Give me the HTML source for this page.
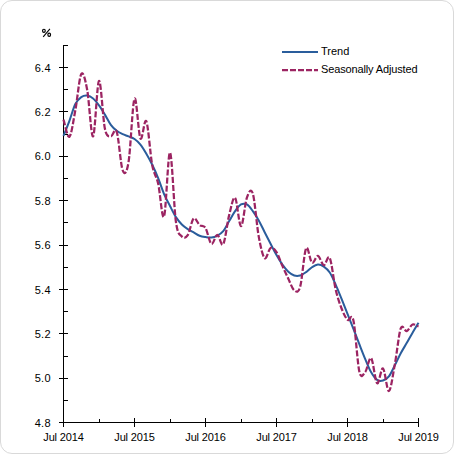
<!DOCTYPE html>
<html><head><meta charset="utf-8"><style>
html,body{margin:0;padding:0;background:#fff;}
body{width:454px;height:454px;overflow:hidden;position:relative;}
.frame{position:absolute;left:0;top:0;width:452px;height:452px;border:1px solid #d9d9d9;border-radius:12px;}
svg{position:absolute;left:0;top:0;}
text{font-family:"Liberation Sans",sans-serif;font-size:11px;fill:#000;}
</style></head><body>
<div class="frame"></div>
<svg width="454" height="454" viewBox="0 0 454 454">
<g stroke="#000" stroke-width="1" fill="none" shape-rendering="crispEdges">
<line x1="63.5" y1="45" x2="63.5" y2="423" />
<line x1="59" y1="422.5" x2="68" y2="422.5" />
<line x1="63" y1="400.5" x2="68" y2="400.5" />
<line x1="59" y1="378.5" x2="68" y2="378.5" />
<line x1="63" y1="356.5" x2="68" y2="356.5" />
<line x1="59" y1="333.5" x2="68" y2="333.5" />
<line x1="63" y1="311.5" x2="68" y2="311.5" />
<line x1="59" y1="289.5" x2="68" y2="289.5" />
<line x1="63" y1="267.5" x2="68" y2="267.5" />
<line x1="59" y1="245.5" x2="68" y2="245.5" />
<line x1="63" y1="222.5" x2="68" y2="222.5" />
<line x1="59" y1="200.5" x2="68" y2="200.5" />
<line x1="63" y1="178.5" x2="68" y2="178.5" />
<line x1="59" y1="156.5" x2="68" y2="156.5" />
<line x1="63" y1="134.5" x2="68" y2="134.5" />
<line x1="59" y1="111.5" x2="68" y2="111.5" />
<line x1="63" y1="89.5" x2="68" y2="89.5" />
<line x1="59" y1="67.5" x2="68" y2="67.5" />
<line x1="63" y1="45.5" x2="68" y2="45.5" />
<line x1="59" y1="422.5" x2="419" y2="422.5" />
<line x1="63.5" y1="418" x2="63.5" y2="427" />
<line x1="134.5" y1="418" x2="134.5" y2="427" />
<line x1="205.5" y1="418" x2="205.5" y2="427" />
<line x1="276.5" y1="418" x2="276.5" y2="427" />
<line x1="347.5" y1="418" x2="347.5" y2="427" />
<line x1="418.5" y1="418" x2="418.5" y2="427" />
<line x1="99.5" y1="419" x2="99.5" y2="423" />
<line x1="170.5" y1="419" x2="170.5" y2="423" />
<line x1="241.5" y1="419" x2="241.5" y2="423" />
<line x1="312.5" y1="419" x2="312.5" y2="423" />
<line x1="383.5" y1="419" x2="383.5" y2="423" />
</g>
<g>
<text x="51.0" y="427.0" text-anchor="end" style="letter-spacing:0.35px">4.8</text>
<text x="51.0" y="382.0" text-anchor="end" style="letter-spacing:0.35px">5.0</text>
<text x="51.0" y="338.0" text-anchor="end" style="letter-spacing:0.35px">5.2</text>
<text x="51.0" y="294.0" text-anchor="end" style="letter-spacing:0.35px">5.4</text>
<text x="51.0" y="249.0" text-anchor="end" style="letter-spacing:0.35px">5.6</text>
<text x="51.0" y="205.0" text-anchor="end" style="letter-spacing:0.35px">5.8</text>
<text x="51.0" y="160.0" text-anchor="end" style="letter-spacing:0.35px">6.0</text>
<text x="51.0" y="116.0" text-anchor="end" style="letter-spacing:0.35px">6.2</text>
<text x="51.0" y="72.0" text-anchor="end" style="letter-spacing:0.35px">6.4</text>
<text x="63.5" y="440.5" text-anchor="middle" style="letter-spacing:-0.14px">Jul 2014</text>
<text x="134.5" y="440.5" text-anchor="middle" style="letter-spacing:-0.14px">Jul 2015</text>
<text x="205.5" y="440.5" text-anchor="middle" style="letter-spacing:-0.14px">Jul 2016</text>
<text x="276.5" y="440.5" text-anchor="middle" style="letter-spacing:-0.14px">Jul 2017</text>
<text x="347.5" y="440.5" text-anchor="middle" style="letter-spacing:-0.14px">Jul 2018</text>
<text x="418.5" y="440.5" text-anchor="middle" style="letter-spacing:-0.14px">Jul 2019</text>
<g fill="none" stroke="#000" stroke-width="1.2"><ellipse cx="43.9" cy="30.85" rx="1.35" ry="1.6"/><ellipse cx="49.2" cy="34.8" rx="1.35" ry="1.6"/><line x1="49.9" y1="28.8" x2="43.2" y2="36.8" stroke-width="1.1"/></g>
</g>
<path d="M63.50,135.93 C64.49,133.42 67.44,126.18 69.42,120.85 C71.39,115.53 73.36,107.95 75.33,104.00 C77.31,100.04 79.28,98.52 81.25,97.12 C83.22,95.71 85.19,95.34 87.17,95.57 C89.14,95.79 91.11,96.82 93.08,98.45 C95.06,100.08 97.03,102.63 99.00,105.33 C100.97,108.02 102.94,111.39 104.92,114.64 C106.89,117.89 108.86,122.15 110.83,124.84 C112.81,127.54 114.78,129.28 116.75,130.83 C118.72,132.39 120.69,133.24 122.67,134.16 C124.64,135.08 126.61,135.56 128.58,136.38 C130.56,137.19 132.53,137.67 134.50,139.04 C136.47,140.41 138.44,142.14 140.42,144.58 C142.39,147.02 144.36,150.31 146.33,153.68 C148.31,157.04 150.28,160.70 152.25,164.77 C154.22,168.83 156.19,173.20 158.17,178.08 C160.14,182.96 162.11,189.39 164.08,194.05 C166.06,198.70 168.03,202.18 170.00,206.02 C171.97,209.87 173.94,214.04 175.92,217.11 C177.89,220.18 179.86,222.44 181.83,224.43 C183.81,226.43 185.78,227.76 187.75,229.09 C189.72,230.42 191.69,231.31 193.67,232.42 C195.64,233.53 197.61,234.97 199.58,235.74 C201.56,236.52 203.53,236.78 205.50,237.08 C207.47,237.37 209.44,237.78 211.42,237.52 C213.39,237.26 215.36,236.59 217.33,235.52 C219.31,234.45 221.28,233.49 223.25,231.09 C225.22,228.68 227.19,224.43 229.17,221.11 C231.14,217.78 233.11,213.90 235.08,211.12 C237.06,208.35 239.03,205.58 241.00,204.47 C242.97,203.36 244.94,203.36 246.92,204.47 C248.89,205.58 250.86,208.46 252.83,211.12 C254.81,213.79 256.78,216.93 258.75,220.44 C260.72,223.95 262.69,228.31 264.67,232.20 C266.64,236.08 268.61,239.92 270.58,243.73 C272.56,247.54 274.53,251.57 276.50,255.04 C278.47,258.52 280.44,261.81 282.42,264.58 C284.39,267.35 286.36,269.86 288.33,271.68 C290.31,273.49 292.28,274.82 294.25,275.45 C296.22,276.08 298.19,276.00 300.17,275.45 C302.14,274.89 304.11,273.49 306.08,272.12 C308.06,270.75 310.03,268.50 312.00,267.24 C313.97,265.98 315.94,264.69 317.92,264.58 C319.89,264.47 321.86,265.24 323.83,266.57 C325.81,267.91 327.78,269.57 329.75,272.56 C331.72,275.56 333.69,280.14 335.67,284.54 C337.64,288.94 339.61,294.08 341.58,298.96 C343.56,303.84 345.53,308.83 347.50,313.82 C349.47,318.81 351.44,323.84 353.42,328.90 C355.39,333.96 357.36,339.18 359.33,344.20 C361.31,349.23 363.28,354.37 365.25,359.07 C367.22,363.76 369.19,368.90 371.17,372.37 C373.14,375.85 375.11,378.55 377.08,379.91 C379.06,381.28 381.03,381.17 383.00,380.58 C384.97,379.99 386.94,378.92 388.92,376.37 C390.89,373.81 392.86,369.12 394.83,365.28 C396.81,361.43 398.78,357.00 400.75,353.30 C402.72,349.60 404.69,346.53 406.67,343.10 C408.64,339.66 410.61,336.07 412.58,332.67 C414.56,329.27 417.51,324.35 418.50,322.69" fill="none" stroke="#2a5d9c" stroke-width="2" />
<path d="M63.50,119.52 C64.49,122.40 67.44,138.37 69.42,136.82 C71.39,135.27 73.36,120.67 75.33,110.21 C77.31,99.74 79.28,77.45 81.25,74.05 C83.22,70.65 85.19,79.41 87.17,89.80 C89.14,100.19 91.11,137.86 93.08,136.38 C95.06,134.90 97.03,82.18 99.00,80.93 C100.97,79.67 102.94,119.60 104.92,128.84 C106.89,138.08 108.86,135.86 110.83,136.38 C112.81,136.90 114.78,126.29 116.75,131.94 C118.72,137.60 120.69,165.32 122.67,170.31 C124.64,175.30 126.61,173.83 128.58,161.89 C130.56,149.94 132.53,102.59 134.50,98.67 C136.47,94.75 138.44,134.60 140.42,138.37 C142.39,142.14 144.36,116.82 146.33,121.30 C148.31,125.77 150.28,154.82 152.25,165.21 C154.22,175.60 156.19,175.08 158.17,183.62 C160.14,192.16 162.11,221.62 164.08,216.45 C166.06,211.27 168.03,151.68 170.00,152.57 C171.97,153.46 173.94,207.80 175.92,221.77 C177.89,235.74 179.86,234.19 181.83,236.41 C183.81,238.63 185.78,238.07 187.75,235.08 C189.72,232.08 191.69,220.11 193.67,218.44 C195.64,216.78 197.61,223.51 199.58,225.10 C201.56,226.69 203.53,224.84 205.50,227.98 C207.47,231.12 209.44,242.81 211.42,243.95 C213.39,245.10 215.36,234.82 217.33,234.86 C219.31,234.89 221.28,247.46 223.25,244.17 C225.22,240.88 227.19,222.84 229.17,215.12 C231.14,207.39 233.11,195.97 235.08,197.82 C237.06,199.66 239.03,226.24 241.00,226.21 C242.97,226.17 244.94,203.03 246.92,197.59 C248.89,192.16 250.86,187.10 252.83,193.60 C254.81,200.11 256.78,225.87 258.75,236.63 C260.72,247.39 262.69,256.26 264.67,258.15 C266.64,260.03 268.61,248.94 270.58,247.94 C272.56,246.95 274.53,249.16 276.50,252.16 C278.47,255.15 280.44,261.47 282.42,265.91 C284.39,270.35 286.36,274.71 288.33,278.77 C290.31,282.84 292.28,288.98 294.25,290.31 C296.22,291.64 298.19,293.75 300.17,286.76 C302.14,279.77 304.11,252.38 306.08,248.39 C308.06,244.39 310.03,261.55 312.00,262.80 C313.97,264.06 315.94,255.52 317.92,255.93 C319.89,256.33 321.86,264.91 323.83,265.24 C325.81,265.58 327.78,253.90 329.75,257.92 C331.72,261.95 333.69,280.99 335.67,289.42 C337.64,297.85 339.61,303.43 341.58,308.49 C343.56,313.56 345.53,317.81 347.50,319.81 C349.47,321.80 351.44,311.86 353.42,320.47 C355.39,329.09 357.36,362.91 359.33,371.49 C361.31,380.06 363.28,374.15 365.25,371.93 C367.22,369.71 369.19,356.29 371.17,358.18 C373.14,360.06 375.11,381.54 377.08,383.24 C379.06,384.94 381.03,367.09 383.00,368.38 C384.97,369.67 386.94,391.67 388.92,391.00 C390.89,390.34 392.86,374.81 394.83,364.39 C396.81,353.96 398.78,334.00 400.75,328.46 C402.72,322.91 404.69,331.78 406.67,331.12 C408.64,330.45 410.61,325.24 412.58,324.46 C414.56,323.69 417.51,326.13 418.50,326.46" fill="none" stroke="#9c2462" stroke-width="2.25" stroke-dasharray="6,2" />
<line x1="282" y1="52" x2="318" y2="52" stroke="#2a5d9c" stroke-width="2"/>
<line x1="282" y1="70" x2="318" y2="70" stroke="#9c2462" stroke-width="2.25" stroke-dasharray="6,2"/>
<text x="321" y="54.7" style="font-size:11px">Trend</text>
<text x="321" y="72.7" style="font-size:11px;letter-spacing:-0.14px">Seasonally Adjusted</text>
</svg>
</body></html>
